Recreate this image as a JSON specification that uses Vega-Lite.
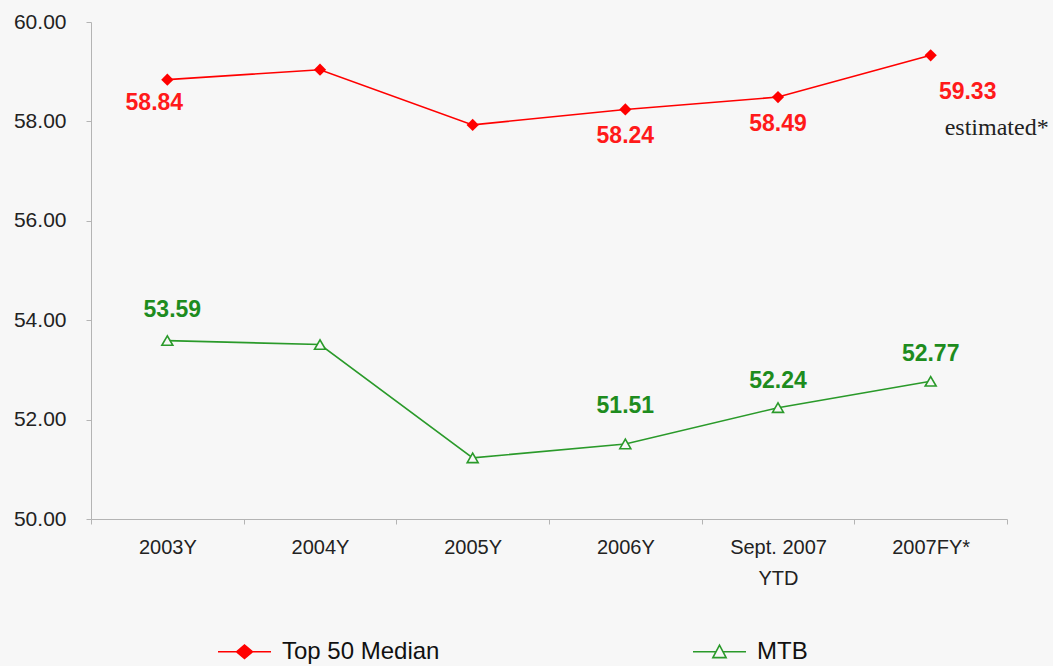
{
  "$schema": "https://vega.github.io/schema/vega-lite/v6.json",
  "width": 916,
  "height": 497,
  "autosize": {"type": "none"},
  "padding": {"left": 91, "top": 22, "right": 46, "bottom": 147},
  "background": "#f7f7f7",
  "config": {
    "view": {"stroke": null},
    "font": "Liberation Sans",
    "axis": {"domainColor": "#b4b4b4", "tickColor": "#b4b4b4", "labelColor": "#222222", "labelFont": "Liberation Sans", "grid": false, "title": null},
    "legend": {"labelFont": "Liberation Sans", "labelFontSize": 24, "labelColor": "#111111"}
  },
  "data": {
    "values": [
      {"cat": "2003Y", "series": "Top 50 Median", "value": 58.84, "label": 58.84},
      {"cat": "2004Y", "series": "Top 50 Median", "value": 59.04, "label": null},
      {"cat": "2005Y", "series": "Top 50 Median", "value": 57.93, "label": null},
      {"cat": "2006Y", "series": "Top 50 Median", "value": 58.24, "label": 58.24},
      {"cat": "Sept. 2007 YTD", "series": "Top 50 Median", "value": 58.49, "label": 58.49},
      {"cat": "2007FY*", "series": "Top 50 Median", "value": 59.33, "label": 59.33},
      {"cat": "2003Y", "series": "MTB", "value": 53.59, "label": 53.59},
      {"cat": "2004Y", "series": "MTB", "value": 53.51, "label": null},
      {"cat": "2005Y", "series": "MTB", "value": 51.23, "label": null},
      {"cat": "2006Y", "series": "MTB", "value": 51.51, "label": 51.51},
      {"cat": "Sept. 2007 YTD", "series": "MTB", "value": 52.24, "label": 52.24},
      {"cat": "2007FY*", "series": "MTB", "value": 52.77, "label": 52.77}
    ]
  },
  "encoding": {
    "x": {
      "field": "cat", "type": "nominal", "sort": null,
      "scale": {"type": "band", "paddingInner": 0, "paddingOuter": 0},
      "axis": {
        "labelAngle": 0, "labelFontSize": 20, "tickSize": 5, "tickBand": "extent",
        "labelPadding": 13, "labelLineHeight": 31,
        "labelExpr": "datum.value == 'Sept. 2007 YTD' ? ['Sept. 2007', 'YTD'] : datum.value"
      }
    },
    "y": {
      "field": "value", "type": "quantitative",
      "scale": {"domain": [50, 60], "nice": false, "zero": false},
      "axis": {"values": [50, 52, 54, 56, 58, 60], "format": ".2f", "labelFontSize": 21, "tickSize": 5, "labelPadding": 20}
    }
  },
  "layer": [
    {
      "mark": {"type": "line", "interpolate": "linear", "strokeWidth": 1.6},
      "encoding": {
        "color": {
          "field": "series", "type": "nominal",
          "scale": {"domain": ["Top 50 Median", "MTB"], "range": ["#ff0000", "#2a9a2a"]},
          "legend": {
            "title": null, "orient": "none", "legendX": 126, "legendY": 602,
            "direction": "horizontal", "columns": 2, "columnPadding": 249,
            "symbolSize": 2809, "labelOffset": 10, "symbolStrokeWidth": 1.6,
            "symbolType": "M-1,0H1M-0.3,0L0,-0.25L0.3,0L0,0.25Z",
            "encode": {
              "symbols": {
                "update": {
                  "shape": {"signal": "datum.value == 'MTB' ? 'M-1,0H-0.133M0.133,0H1M-0.25,0.22L0,-0.25L0.25,0.22Z' : 'M-1,0H1M-0.3,0L0,-0.25L0.3,0L0,0.25Z'"},
                  "fill": {"signal": "datum.value == 'MTB' ? '#f7f7f7' : '#ff0000'"},
                  "stroke": {"signal": "datum.value == 'MTB' ? '#2a9a2a' : '#ff0000'"},
                  "strokeWidth": {"value": 1.6},
                  "size": {"value": 2809},
                  "opacity": {"value": 1}
                }
              }
            }
          }
        },
        "detail": {"field": "series"}
      }
    },
    {
      "transform": [{"filter": "datum.series == 'Top 50 Median'"}],
      "mark": {"type": "point", "shape": "diamond", "filled": true, "color": "#ff0000", "opacity": 1, "size": 150},
      "encoding": {}
    },
    {
      "transform": [{"filter": "datum.series == 'MTB'"}],
      "mark": {"type": "point", "shape": "triangle-up", "filled": false, "stroke": "#2a9a2a", "fill": "#f7f7f7", "strokeWidth": 1.6, "opacity": 1, "size": 120},
      "encoding": {}
    },
    {
      "transform": [{"filter": "datum.series == 'Top 50 Median' && (datum.cat == '2006Y' || datum.cat == 'Sept. 2007 YTD')"}],
      "mark": {"type": "text", "fontSize": 23, "fontWeight": "bold", "color": "#ff1a1a", "baseline": "middle", "dy": 27},
      "encoding": {"text": {"field": "label", "type": "quantitative", "format": ".2f"}}
    },
    {
      "transform": [{"filter": "datum.series == 'Top 50 Median' && datum.cat == '2003Y'"}],
      "mark": {"type": "text", "fontSize": 23, "fontWeight": "bold", "color": "#ff1a1a", "baseline": "middle", "dx": -13, "dy": 23},
      "encoding": {"text": {"field": "label", "type": "quantitative", "format": ".2f"}}
    },
    {
      "transform": [{"filter": "datum.series == 'Top 50 Median' && datum.cat == '2007FY*'"}],
      "mark": {"type": "text", "fontSize": 23, "fontWeight": "bold", "color": "#ff1a1a", "baseline": "middle", "dx": 37, "dy": 37},
      "encoding": {"text": {"field": "label", "type": "quantitative", "format": ".2f"}}
    },
    {
      "transform": [{"filter": "datum.series == 'Top 50 Median' && datum.cat == '2007FY*'"}],
      "mark": {"type": "text", "fontSize": 24, "font": "Liberation Serif", "color": "#222222", "baseline": "middle", "dx": 66, "dy": 73, "text": "estimated*"},
      "encoding": {}
    },
    {
      "transform": [{"filter": "datum.series == 'MTB' && (datum.cat == 'Sept. 2007 YTD' || datum.cat == '2007FY*')"}],
      "mark": {"type": "text", "fontSize": 23, "fontWeight": "bold", "color": "#1e8c1e", "baseline": "middle", "dy": -27},
      "encoding": {"text": {"field": "label", "type": "quantitative", "format": ".2f"}}
    },
    {
      "transform": [{"filter": "datum.series == 'MTB' && datum.cat == '2003Y'"}],
      "mark": {"type": "text", "fontSize": 23, "fontWeight": "bold", "color": "#1e8c1e", "baseline": "middle", "dx": 5, "dy": -31},
      "encoding": {"text": {"field": "label", "type": "quantitative", "format": ".2f"}}
    },
    {
      "transform": [{"filter": "datum.series == 'MTB' && datum.cat == '2006Y'"}],
      "mark": {"type": "text", "fontSize": 23, "fontWeight": "bold", "color": "#1e8c1e", "baseline": "middle", "dy": -38},
      "encoding": {"text": {"field": "label", "type": "quantitative", "format": ".2f"}}
    }
  ]
}
